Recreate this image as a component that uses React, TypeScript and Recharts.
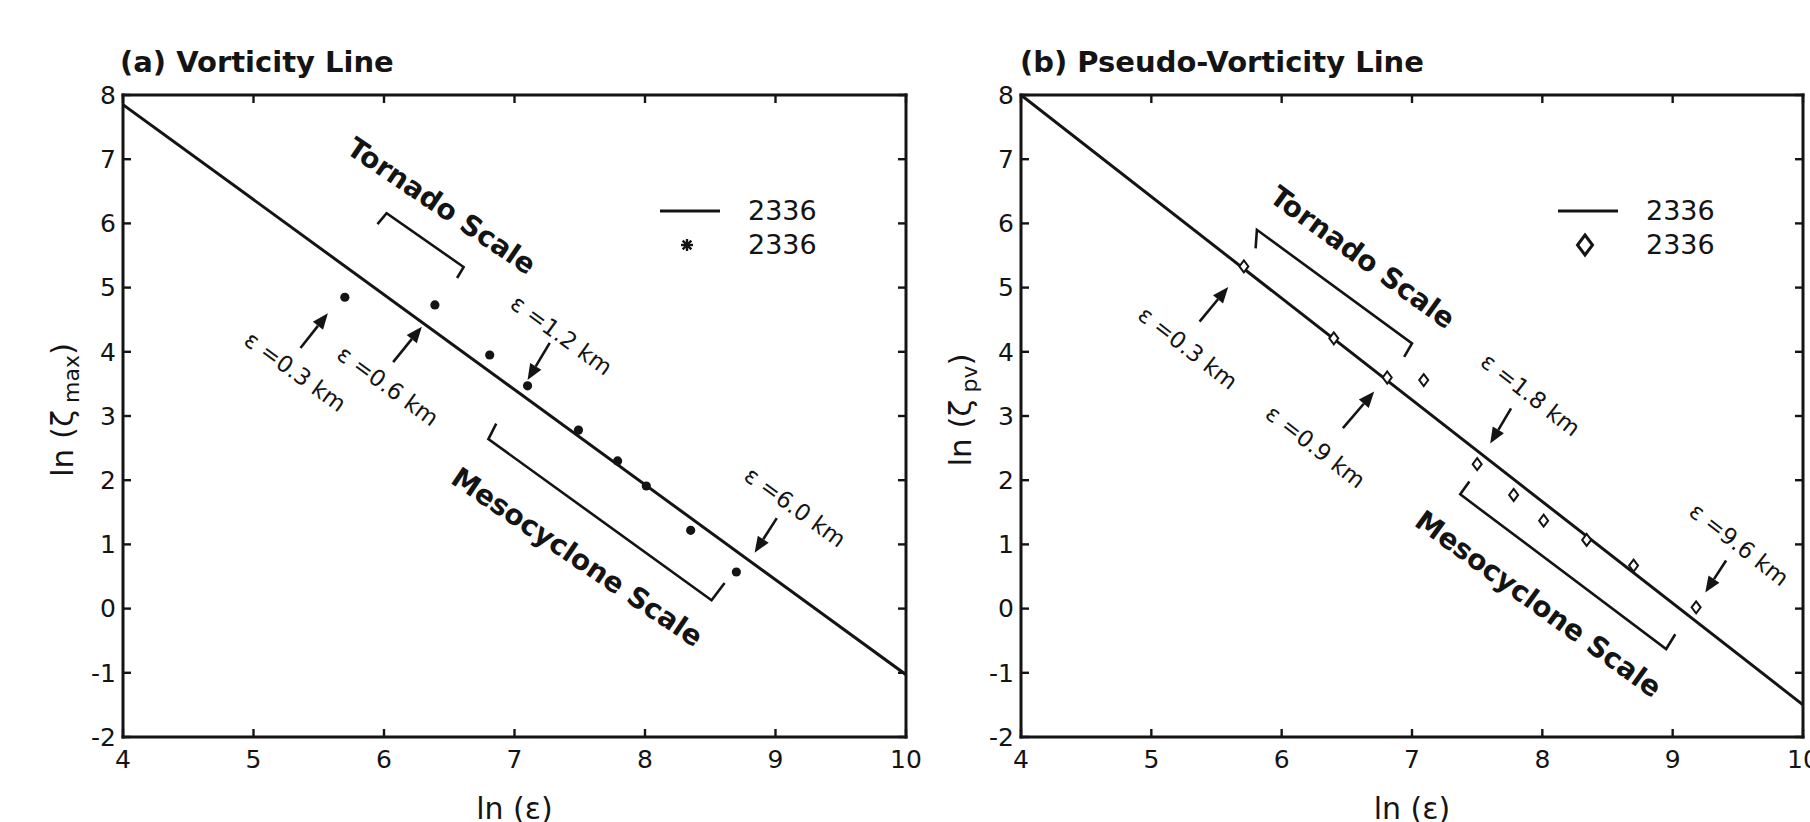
import React from 'react';
import { ComposedChart, Scatter, XAxis, YAxis, ReferenceLine, Legend } from 'recharts';

const FONT = '"DejaVu Sans", "Liberation Sans", sans-serif';
const INK = '#141414';

const X_TICKS = [4, 5, 6, 7, 8, 9, 10];
const Y_TICKS = [-2, -1, 0, 1, 2, 3, 4, 5, 6, 7, 8];
const LEGEND_LABEL = '2336';

// (a) vorticity: ln(eps) vs ln(zeta_max)
const LN_EPS_A = [5.7, 6.39, 6.81, 7.1, 7.49, 7.79, 8.01, 8.35, 8.7];
const LN_ZETA_MAX = [4.85, 4.73, 3.95, 3.47, 2.78, 2.3, 1.91, 1.22, 0.57];
const FIT_A = [[4, 7.85], [10, -1.03]];

// (b) pseudo-vorticity: ln(eps) vs ln(zeta_pv)
const LN_EPS_B = [5.71, 6.4, 6.81, 7.09, 7.5, 7.78, 8.01, 8.34, 8.7, 9.18];
const LN_ZETA_PV = [5.33, 4.21, 3.6, 3.56, 2.25, 1.77, 1.37, 1.07, 0.67, 0.02];
const FIT_B = [[4, 8.0], [10, -1.5]];

// annotations, in data units
const SCALE_LABELS = ['Tornado Scale', 'Mesocyclone Scale'];
const SCALE_POS_A = [[6.44, 6.27], [7.48, 0.8]];
const SCALE_POS_B = [[6.62, 5.47], [7.97, 0.07]];

const EPS_LABELS_A = ['ε =0.3 km', 'ε =0.6 km', 'ε =1.2 km', 'ε =6.0 km'];
const EPS_POS_A = [[5.32, 3.69], [6.03, 3.47], [7.36, 4.26], [9.15, 1.58]];
const EPS_LABELS_B = ['ε =0.3 km', 'ε =0.9 km', 'ε =1.8 km', 'ε =9.6 km'];
const EPS_POS_B = [[5.28, 4.06], [6.26, 2.52], [7.91, 3.33], [9.51, 1.0]];

const ARROW_TAIL_A = [[5.36, 4.06], [6.07, 3.84], [7.27, 4.14], [9.01, 1.41]];
const ARROW_TIP_A = [[5.57, 4.6], [6.29, 4.39], [7.1, 3.56], [8.84, 0.87]];
const ARROW_TAIL_B = [[5.37, 4.47], [6.47, 2.81], [7.76, 3.12], [9.41, 0.75]];
const ARROW_TIP_B = [[5.59, 5.01], [6.71, 3.38], [7.6, 2.57], [9.25, 0.25]];

const BRACKETS_A = [
  [[5.95, 5.99], [6.02, 6.16], [6.61, 5.32], [6.56, 5.15]],
  [[6.86, 2.88], [6.8, 2.64], [8.51, 0.13], [8.61, 0.4]],
];
const BRACKETS_B = [
  [[5.8, 5.61], [5.81, 5.9], [7.0, 4.13], [6.94, 3.92]],
  [[7.44, 1.98], [7.37, 1.78], [8.95, -0.63], [9.02, -0.4]],
];

const toPoints = (pairs: number[][]) => pairs.map(([x, y]) => ({ x, y }));
const zipPoints = (xs: number[], ys: number[]) => xs.map((x, i) => ({ x, y: ys[i] }));
const toLabels = (labels: string[], pos: number[][]) =>
  labels.map((label, i) => ({ x: pos[i][0], y: pos[i][1], label }));

const noShape = () => <g />;

const dotShape = (p: any) => <circle cx={p.cx} cy={p.cy} r={4.6} fill={INK} />;

const diamondShape = (p: any) => (
  <polygon
    points={`${p.cx},${p.cy - 6} ${p.cx + 4.5},${p.cy} ${p.cx},${p.cy + 6} ${p.cx - 4.5},${p.cy}`}
    fill="#fff"
    stroke={INK}
    strokeWidth={2}
  />
);

const textShape = (angle: number, size: number, weight: number) => (p: any) => (
  <text
    x={p.cx}
    y={p.cy}
    transform={`rotate(${angle} ${p.cx} ${p.cy})`}
    textAnchor="middle"
    dominantBaseline="central"
    fontFamily={FONT}
    fontSize={size}
    fontWeight={weight}
    fill={INK}
  >
    {p.payload.label}
  </text>
);

const arrowShape = (p: any) => {
  const { x1, y1, x2, y2 } = p;
  const ang = Math.atan2(y2 - y1, x2 - x1);
  const len = 16;
  const half = 6.5;
  const bx = x2 - len * Math.cos(ang);
  const by = y2 - len * Math.sin(ang);
  const nx = -Math.sin(ang) * half;
  const ny = Math.cos(ang) * half;
  return (
    <g>
      <line x1={x1} y1={y1} x2={bx} y2={by} stroke={INK} strokeWidth={2.6} />
      <polygon points={`${x2},${y2} ${bx + nx},${by + ny} ${bx - nx},${by - ny}`} fill={INK} />
    </g>
  );
};

function StarMark({ cx, cy }: { cx: number; cy: number }) {
  const r = 6;
  const d = r * 0.72;
  return (
    <g stroke={INK} strokeWidth={2.4}>
      <line x1={cx - r} y1={cy} x2={cx + r} y2={cy} />
      <line x1={cx} y1={cy - r} x2={cx} y2={cy + r} />
      <line x1={cx - d} y1={cy - d} x2={cx + d} y2={cy + d} />
      <line x1={cx - d} y1={cy + d} x2={cx + d} y2={cy - d} />
    </g>
  );
}

function DiamondMark({ cx, cy }: { cx: number; cy: number }) {
  return (
    <polygon
      points={`${cx},${cy - 10} ${cx + 7.5},${cy} ${cx},${cy + 10} ${cx - 7.5},${cy}`}
      fill="#fff"
      stroke={INK}
      strokeWidth={3}
    />
  );
}

const legendContent = (marker: 'star' | 'diamond') => () => {
  const row = { display: 'flex', alignItems: 'center', height: 34 } as React.CSSProperties;
  return (
    <div style={{ fontFamily: FONT, fontSize: 27, color: INK, lineHeight: '34px' }}>
      <div style={row}>
        <svg width={70} height={34}>
          <line x1={5} x2={65} y1={17} y2={17} stroke={INK} strokeWidth={3.2} />
        </svg>
        <span style={{ marginLeft: 23 }}>{LEGEND_LABEL}</span>
      </div>
      <div style={row}>
        <svg width={70} height={34}>
          {marker === 'star' ? <StarMark cx={32} cy={17} /> : <DiamondMark cx={32} cy={17} />}
        </svg>
        <span style={{ marginLeft: 23 }}>{LEGEND_LABEL}</span>
      </div>
    </div>
  );
};

const yLabel = (sub: string) => (props: any) => {
  const vb = props.viewBox || { x: 0, y: 0, width: 0, height: 0 };
  const cx = vb.x + vb.width - 50;
  const cy = vb.y + vb.height / 2 - 6;
  return (
    <text
      x={cx}
      y={cy}
      transform={`rotate(-90 ${cx} ${cy})`}
      textAnchor="middle"
      fontFamily={FONT}
      fontSize={31}
      fill={INK}
    >
      ln (ζ
      <tspan fontSize={22} dy={6}>
        {' ' + sub}
      </tspan>
      <tspan dy={-6}>)</tspan>
    </text>
  );
};

const xLabel = (props: any) => {
  const vb = props.viewBox || { x: 0, y: 0, width: 0, height: 0 };
  return (
    <text
      x={vb.x + vb.width / 2}
      y={vb.y + 82}
      textAnchor="middle"
      fontFamily={FONT}
      fontSize={30}
      fill={INK}
    >
      ln (ε)
    </text>
  );
};

interface PanelProps {
  left: number;
  width: number;
  margin: { top: number; right: number; bottom: number; left: number };
  points: { x: number; y: number }[];
  fit: number[][];
  marker: 'star' | 'diamond';
  sub: string;
  angle: number;
  epsLabels: string[];
  epsPos: number[][];
  scalePos: number[][];
  tails: number[][];
  tips: number[][];
  brackets: number[][][];
  legendLeft: number;
}

const AXIS_LINE = { stroke: INK, strokeWidth: 3, strokeLinecap: 'square' as const };
const TICK_LINE = { stroke: INK, strokeWidth: 2.4 };
const TICK_FONT = { fill: INK, fontSize: 25, fontFamily: FONT };
const blankTick = () => <g />;

// shared props of the number axes
const xProps = {
  type: 'number' as const,
  dataKey: 'x',
  domain: [4, 10],
  ticks: X_TICKS,
  interval: 0 as const,
  allowDataOverflow: true,
  height: 1,
};
const yProps = {
  type: 'number' as const,
  dataKey: 'y',
  domain: [-2, 8],
  ticks: Y_TICKS,
  interval: 0 as const,
  allowDataOverflow: true,
  width: 1,
};

function Panel(p: PanelProps) {
  return (
    <div style={{ position: 'absolute', left: p.left, top: 0 }}>
      <ComposedChart width={p.width} height={822} margin={p.margin}>
        {/* labelled bottom / left axes */}
        <XAxis
          {...xProps}
          axisLine={AXIS_LINE}
          tickLine={false}
          tickSize={0}
          tickMargin={13}
          tick={TICK_FONT}
          label={{ content: xLabel }}
        />
        <YAxis
          {...yProps}
          axisLine={AXIS_LINE}
          tickLine={false}
          tickSize={0}
          tickMargin={7}
          tick={TICK_FONT}
          label={{ content: yLabel(p.sub) }}
        />
        {/* box sides and inward tick marks */}
        <XAxis {...xProps} xAxisId="bt" mirror axisLine={false} tickLine={TICK_LINE} tickSize={8} tick={blankTick} />
        <YAxis {...yProps} yAxisId="lt" mirror axisLine={false} tickLine={TICK_LINE} tickSize={8} tick={blankTick} />
        <XAxis
          {...xProps}
          xAxisId="top"
          orientation="top"
          mirror
          axisLine={AXIS_LINE}
          tickLine={TICK_LINE}
          tickSize={8}
          tick={blankTick}
        />
        <YAxis
          {...yProps}
          yAxisId="right"
          orientation="right"
          mirror
          axisLine={AXIS_LINE}
          tickLine={TICK_LINE}
          tickSize={8}
          tick={blankTick}
        />
        <Legend
          layout="vertical"
          align="center"
          verticalAlign="middle"
          content={legendContent(p.marker)}
          wrapperStyle={{ left: p.legendLeft, top: 194, width: 230, height: 70 }}
        />

        <Scatter
          data={toPoints(p.fit)}
          line={{ stroke: INK, strokeWidth: 3 }}
          lineType="joint"
          shape={noShape}
          legendType="none"
          isAnimationActive={false}
        />
        {p.brackets.map((b, i) => (
          <Scatter
            key={`br${i}`}
            data={toPoints(b)}
            line={{ stroke: INK, strokeWidth: 2.6 }}
            lineType="joint"
            shape={noShape}
            legendType="none"
            isAnimationActive={false}
          />
        ))}
        {p.tails.map((t, i) => (
          <ReferenceLine
            key={`ar${i}`}
            segment={[
              { x: t[0], y: t[1] },
              { x: p.tips[i][0], y: p.tips[i][1] },
            ]}
            shape={arrowShape}
          />
        ))}
        <Scatter
          data={toLabels(SCALE_LABELS, p.scalePos)}
          shape={textShape(p.angle - 2, 28, 700)}
          legendType="none"
          isAnimationActive={false}
        />
        <Scatter
          data={toLabels(p.epsLabels, p.epsPos)}
          shape={textShape(p.angle, 23, 400)}
          legendType="none"
          isAnimationActive={false}
        />
        <Scatter
          data={p.points}
          shape={p.marker === 'star' ? dotShape : diamondShape}
          isAnimationActive={false}
        />
      </ComposedChart>
    </div>
  );
}

export default function App() {
  return (
    <div
      style={{
        position: 'absolute',
        left: 0,
        top: 0,
        width: 1810,
        height: 822,
        overflow: 'hidden',
        background: '#fff',
      }}
    >
      <Panel
        left={0}
        width={940}
        margin={{ top: 95, right: 34, bottom: 84, left: 122 }}
        points={zipPoints(LN_EPS_A, LN_ZETA_MAX)}
        fit={FIT_A}
        marker="star"
        sub="max"
        angle={36}
        epsLabels={EPS_LABELS_A}
        epsPos={EPS_POS_A}
        scalePos={SCALE_POS_A}
        tails={ARROW_TAIL_A}
        tips={ARROW_TIP_A}
        brackets={BRACKETS_A}
        legendLeft={655}
      />
      <Panel
        left={910}
        width={900}
        margin={{ top: 95, right: 7, bottom: 84, left: 110 }}
        points={zipPoints(LN_EPS_B, LN_ZETA_PV)}
        fit={FIT_B}
        marker="diamond"
        sub="pv"
        angle={38}
        epsLabels={EPS_LABELS_B}
        epsPos={EPS_POS_B}
        scalePos={SCALE_POS_B}
        tails={ARROW_TAIL_B}
        tips={ARROW_TIP_B}
        brackets={BRACKETS_B}
        legendLeft={643}
      />
      <svg
        width={1810}
        height={90}
        style={{ position: 'absolute', left: 0, top: 0, pointerEvents: 'none' }}
      >
        <text x={120} y={72} fontFamily={FONT} fontSize={29} fontWeight={700} fill={INK}>
          (a) Vorticity Line
        </text>
        <text x={1020} y={72} fontFamily={FONT} fontSize={29} fontWeight={700} fill={INK}>
          (b) Pseudo-Vorticity Line
        </text>
      </svg>
    </div>
  );
}
